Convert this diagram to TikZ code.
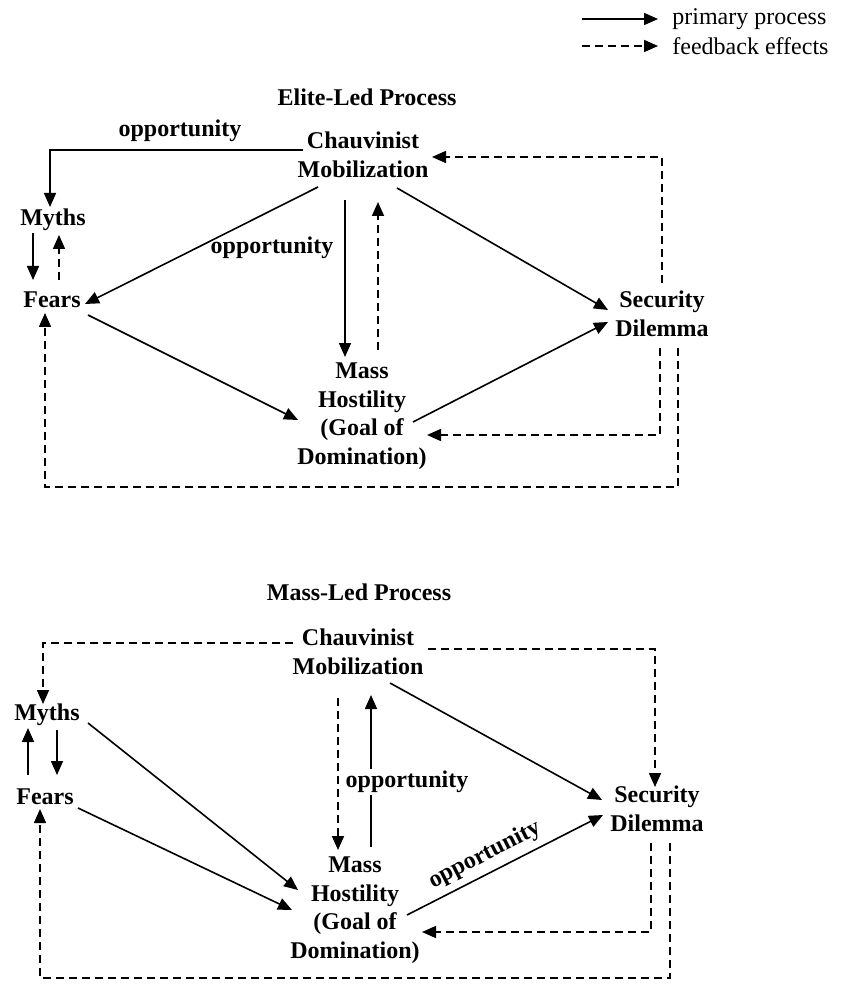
\documentclass[tikz,border=0pt]{standalone}
\usepackage{fontspec}
\setmainfont{Liberation Serif}
\usetikzlibrary{arrows.meta}
\usetikzlibrary{calc}

\begin{document}
\begin{tikzpicture} [
    x=0.5pt, y=-0.5pt,
    every node/.style = {font=\fontsize{12}{14.25}\selectfont\bfseries, align=center, inner sep=1pt},
    prim/.style = {line width=0.8pt, -{Triangle[length=7pt, width=6pt]}},
    fb/.style = {prim, dash pattern=on 4pt off 2.5pt},
    legend/.style = {font=\fontsize{12}{14}\selectfont, anchor=west}
]
    \useasboundingbox (0,0) rectangle (845,989);

    % legend
    \node[legend] (lgp) at (670,19) {primary process};
    \node[legend] (lgf) at (670,46) {feedback effects};
    \coordinate (lgs1) at (582,19);
    \coordinate (lgs2) at (582,46);
    \draw[prim] (lgs1) -- ([xshift=-6pt]lgp.west);
    \draw[fb] (lgs2) -- ([xshift=-6pt]lgf.west);

    % elite-led
    \node (title1) at (367,97) {Elite-Led Process};
    \node (cm1) at (363,155) {Chauvinist\\Mobilization};
    \node (my1) at (53,220) {Myths};
    \node (fe1) at (52,300) {Fears};
    \node (mh1) at (362,416) {Mass\\Hostility\\(Goal of\\Domination)};
    \node (sd1) at (662,314) {Security\\Dilemma};
    \node (op1a) at (180,131) {opportunity};
    \node (op1b) at (272,248) {opportunity};

    \draw[prim] ($(cm1)+(-60,-5)$) -| ($(my1)+(-3,-13)$);
    \draw[prim] ($(my1)+(-20,13)$) -- ($(fe1)+(-19,-20)$);
    \draw[fb] ($(fe1)+(7,-20)$) -- ($(my1)+(6,15)$);
    \draw[prim] ($(cm1)+(-45,32)$) -- ($(fe1)+(33,4)$);
    \draw[prim] ($(cm1)+(-18,45)$) -- ($(mh1)+(-17,-59)$);
    \draw[fb] ($(mh1)+(16,-66)$) -- ($(cm1)+(15,47)$);
    \draw[prim] ($(cm1)+(34,33)$) -- ($(sd1)+(-54,-4)$);
    \draw[prim] ($(fe1)+(36,15)$) -- ($(mh1)+(-64,4)$);
    \draw[prim] ($(mh1)+(51,6)$) -- ($(sd1)+(-54,8)$);
    \draw[fb] ($(sd1)+(0,-31)$) |- ($(cm1)+(69,2)$);
    \draw[fb] ($(sd1)+(-2,34)$) |- ($(mh1)+(65,19)$);
    \draw[fb] ($(sd1)+(16,34)$) |- ($(fe1)+(-7,187)$) -- ($(fe1)+(-7,13)$);

    % mass-led
    \node (title2) at (359,592) {Mass-Led Process};
    \node (cm2) at (358,652) {Chauvinist\\Mobilization};
    \node (my2) at (47,715) {Myths};
    \node (fe2) at (45,797) {Fears};
    \node (mh2) at (355,910) {Mass\\Hostility\\(Goal of\\Domination)};
    \node (sd2) at (657,809) {Security\\Dilemma};

    \draw[fb] ($(cm2)+(-65,-9)$) -| ($(my2)+(-4,-11)$);
    \draw[prim] ($(fe2)+(-17,-22)$) -- ($(my2)+(-19,13)$);
    \draw[prim] ($(my2)+(10,15)$) -- ($(fe2)+(12,-22)$);
    \draw[prim] ($(my2)+(41,8)$) -- ($(mh2)+(-57,-20)$);
    \draw[prim] ($(fe2)+(33,11)$) -- ($(mh2)+(-63,0)$);
    \draw[fb] ($(cm2)+(-20,46)$) -- ($(mh2)+(-17,-60)$);
    \draw[prim] ($(mh2)+(16,-63)$) -- ($(cm2)+(13,43)$);
    \draw[prim] ($(cm2)+(32,31)$) -- ($(sd2)+(-55,-9)$);
    \draw[fb] ($(cm2)+(70,-3)$) -| ($(sd2)+(-2,-22)$);
    \draw[prim] ($(mh2)+(52,5)$) -- node[pos=0.44, above=2pt, sloped] (op2b) {opportunity} ($(sd2)+(-54,6)$);
    \draw[fb] ($(sd2)+(-6,34)$) |- ($(mh2)+(67,22)$);
    \draw[fb] ($(sd2)+(13,34)$) |- ($(fe2)+(-5,181)$) -- ($(fe2)+(-5,12)$);
    \node[fill=white] (op2a) at (407,782) {opportunity};
\end{tikzpicture}
\end{document}
